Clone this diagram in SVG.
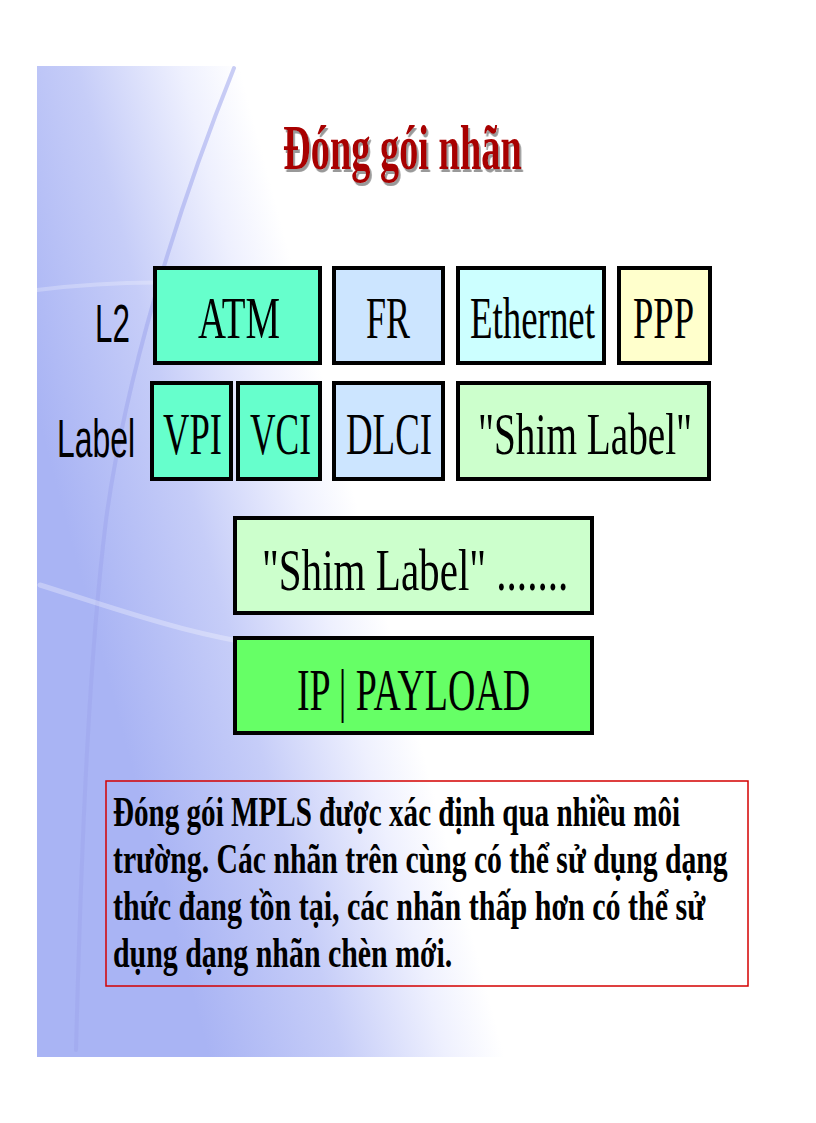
<svg xmlns="http://www.w3.org/2000/svg" width="816" height="1123" viewBox="0 0 816 1123">
  <defs>
    <linearGradient id="bg" gradientUnits="userSpaceOnUse" x1="94" y1="627" x2="370" y2="553">
      <stop offset="0" stop-color="#a9b4f4"/>
      <stop offset="0.45" stop-color="#c6cdf8"/>
      <stop offset="0.8" stop-color="#eef0fe"/>
      <stop offset="1" stop-color="#ffffff"/>
    </linearGradient>
    <filter id="tshadow" x="-5%" y="-10%" width="115%" height="130%">
      <feDropShadow dx="3" dy="3" stdDeviation="0.6" flood-color="#808080" flood-opacity="0.8"/>
    </filter>
    <style>
      .box { stroke: #000; stroke-width: 4; }
      .shadow { fill: #333; }
      .bt { font-family: "Liberation Serif", "Times New Roman", serif; font-size: 60px; fill: #000; }
      .side { font-family: "Liberation Sans", Arial, sans-serif; font-size: 54px; fill: #000; }
      .body { font-family: "Liberation Serif", "Times New Roman", serif; font-size: 42px; font-weight: bold; fill: #000; }
      .title { font-family: "Liberation Serif", "Times New Roman", serif; font-size: 64px; font-weight: bold; fill: #a80000; }
      .swoosh { fill: none; stroke-linecap: round; }
    </style>
  </defs>

  <rect x="0" y="0" width="816" height="1123" fill="#ffffff"/>
  <g id="background">
    <rect x="37" y="66" width="779" height="991" fill="url(#bg)"/>
    <path class="swoosh" d="M234,68 C175,215 125,380 106,520 C90,650 82,820 76,1050" stroke="#9ea6ec" stroke-width="4" opacity="0.55"/>
    <path class="swoosh" d="M37,290 C100,282 170,280 240,286" stroke="#ffffff" stroke-width="4" opacity="0.25"/>
    <path class="swoosh" d="M40,585 C120,610 200,640 300,650" stroke="#ffffff" stroke-width="5" opacity="0.3"/>
  </g>

  <g id="title">
    <text class="title" transform="translate(283,169) scale(0.6,1)" x="0" y="0" textLength="398" lengthAdjust="spacingAndGlyphs" filter="url(#tshadow)">Đóng gói nhãn</text>
  </g>

  <g id="label-L2">
    <text class="side" transform="translate(95,342) scale(0.58,1)" x="0" y="0" textLength="60.3" lengthAdjust="spacingAndGlyphs">L2</text>
  </g>
  <g id="label-Label">
    <text class="side" transform="translate(57,457) scale(0.58,1)" x="0" y="0" textLength="134.5" lengthAdjust="spacingAndGlyphs">Label</text>
  </g>

  <g id="node-ATM">
    <rect class="shadow" x="157" y="270" width="165" height="95"/>
    <rect class="box" x="155" y="268" width="165" height="95" fill="#66ffcc"/>
    <text class="bt" transform="translate(198,338) scale(0.61,1)" x="0" y="0" textLength="134.4" lengthAdjust="spacingAndGlyphs">ATM</text>
  </g>
  <g id="node-FR">
    <rect class="shadow" x="336" y="270" width="109" height="95"/>
    <rect class="box" x="334" y="268" width="109" height="95" fill="#cce5ff"/>
    <text class="bt" transform="translate(366,338) scale(0.61,1)" x="0" y="0" textLength="72.1" lengthAdjust="spacingAndGlyphs">FR</text>
  </g>
  <g id="node-Ethernet">
    <rect class="shadow" x="460" y="270" width="146" height="95"/>
    <rect class="box" x="458" y="268" width="146" height="95" fill="#ccffff"/>
    <text class="bt" transform="translate(470,338) scale(0.61,1)" x="0" y="0" textLength="204.9" lengthAdjust="spacingAndGlyphs">Ethernet</text>
  </g>
  <g id="node-PPP">
    <rect class="shadow" x="621" y="270" width="91" height="95"/>
    <rect class="box" x="619" y="268" width="91" height="95" fill="#ffffcc"/>
    <text class="bt" transform="translate(633,338) scale(0.61,1)" x="0" y="0" textLength="100" lengthAdjust="spacingAndGlyphs">PPP</text>
  </g>

  <g id="node-VPI">
    <rect class="shadow" x="154" y="385" width="79" height="96"/>
    <rect class="box" x="152" y="383" width="79" height="96" fill="#66ffcc"/>
    <text class="bt" transform="translate(163,454) scale(0.61,1)" x="0" y="0" textLength="96.7" lengthAdjust="spacingAndGlyphs">VPI</text>
  </g>
  <g id="node-VCI">
    <rect class="shadow" x="240" y="385" width="82" height="96"/>
    <rect class="box" x="238" y="383" width="82" height="96" fill="#66ffcc"/>
    <text class="bt" transform="translate(250,454) scale(0.61,1)" x="0" y="0" textLength="100" lengthAdjust="spacingAndGlyphs">VCI</text>
  </g>
  <g id="node-DLCI">
    <rect class="shadow" x="336" y="385" width="109" height="96"/>
    <rect class="box" x="334" y="383" width="109" height="96" fill="#cce5ff"/>
    <text class="bt" transform="translate(346,454) scale(0.61,1)" x="0" y="0" textLength="141" lengthAdjust="spacingAndGlyphs">DLCI</text>
  </g>
  <g id="node-Shim">
    <rect class="shadow" x="460" y="385" width="251" height="96"/>
    <rect class="box" x="458" y="383" width="251" height="96" fill="#ccffcc"/>
    <text class="bt" transform="translate(478,454) scale(0.61,1)" x="0" y="0" textLength="351" lengthAdjust="spacingAndGlyphs">"Shim Label"</text>
  </g>

  <g id="node-Shim2">
    <rect class="shadow" x="237" y="520" width="357" height="95"/>
    <rect class="box" x="235" y="518" width="357" height="95" fill="#ccffcc"/>
    <text class="bt" transform="translate(262,590) scale(0.61,1)" x="0" y="0" textLength="502" lengthAdjust="spacingAndGlyphs">"Shim Label" .......</text>
  </g>
  <g id="node-IP">
    <rect class="shadow" x="237" y="640" width="357" height="95"/>
    <rect class="box" x="235" y="638" width="357" height="95" fill="#66ff66"/>
    <text class="bt" transform="translate(297,710) scale(0.61,1)" x="0" y="0" textLength="382" lengthAdjust="spacingAndGlyphs">IP | PAYLOAD</text>
  </g>

  <g id="note">
    <rect x="106" y="781" width="642" height="205" fill="none" stroke="#d40000" stroke-width="1.5"/>
    <text class="body" transform="translate(113,826) scale(0.68,1)" x="0" y="0" textLength="834" lengthAdjust="spacingAndGlyphs">Đóng gói MPLS được xác định qua nhiều môi</text>
    <text class="body" transform="translate(113,873) scale(0.68,1)" x="0" y="0" textLength="904" lengthAdjust="spacingAndGlyphs">trường. Các nhãn trên cùng có thể sử dụng dạng</text>
    <text class="body" transform="translate(113,920) scale(0.68,1)" x="0" y="0" textLength="871" lengthAdjust="spacingAndGlyphs">thức đang tồn tại, các nhãn thấp hơn có thể sử</text>
    <text class="body" transform="translate(113,967) scale(0.68,1)" x="0" y="0" textLength="499" lengthAdjust="spacingAndGlyphs">dụng dạng nhãn chèn mới.</text>
  </g>
</svg>
